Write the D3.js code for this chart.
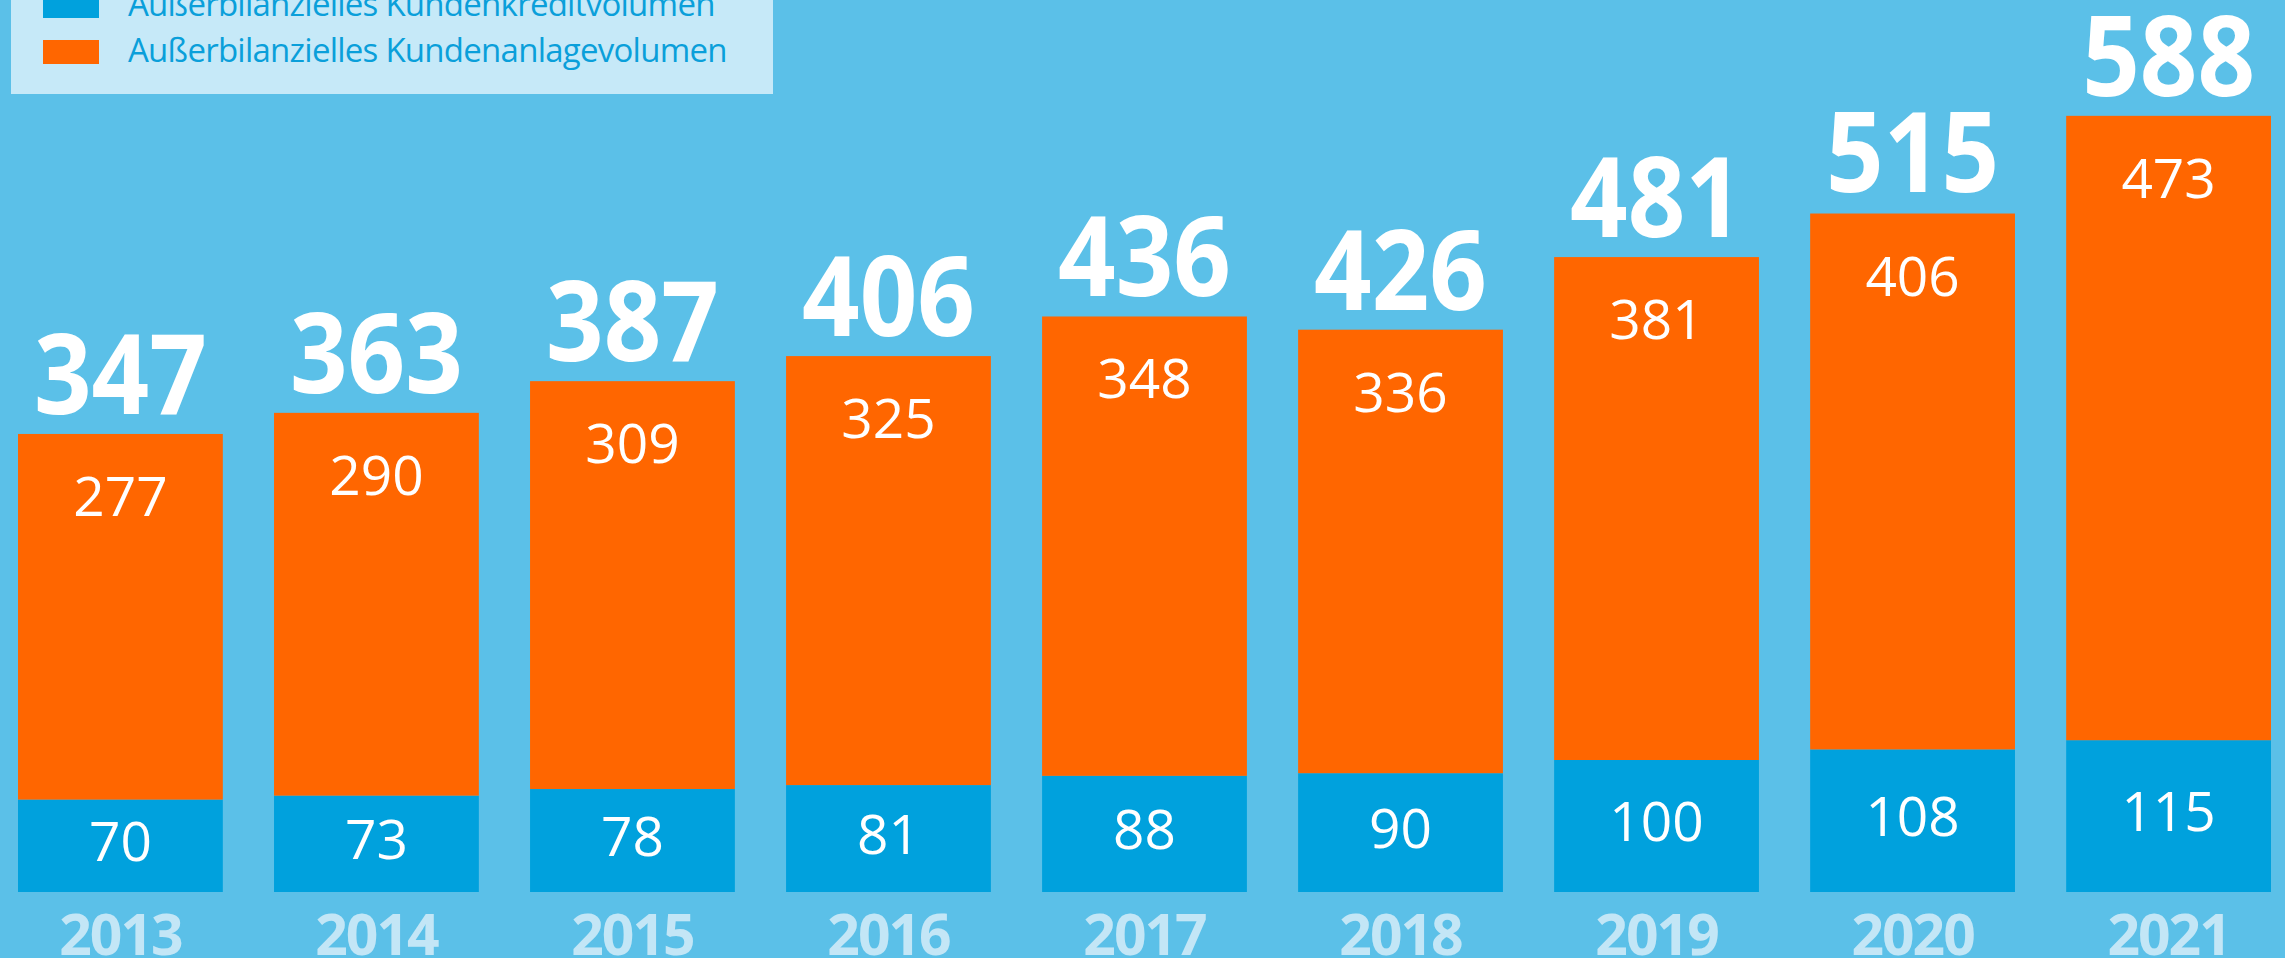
<!DOCTYPE html>
<html>
<head>
<meta charset="utf-8">
<script src="https://cdn.jsdelivr.net/npm/d3@7"></script>
<style>
  html, body { margin: 0; padding: 0; background: #5bc0e8; overflow: hidden; }
  svg { display: block; font-family: "Open Sans", sans-serif; }
</style>
</head>
<body>
<div id="chart"></div>
<script>
// chart data
var years = ["2013", "2014", "2015", "2016", "2017", "2018", "2019", "2020", "2021"];
var kredit = [70, 73, 78, 81, 88, 90, 100, 108, 115];
var anlage = [277, 290, 309, 325, 348, 336, 381, 406, 473];
var totals = [347, 363, 387, 406, 436, 426, 481, 515, 588];
var seriesNames = ["Außerbilanzielles Kundenkreditvolumen", "Außerbilanzielles Kundenanlagevolumen"];

var width = 2285;
var height = 958;
var blue = "#00a1dd";
var orange = "#ff6600";

var svg = d3.select("#chart")
  .append("svg")
  .attr("width", width)
  .attr("height", height);

svg.append("rect")
  .attr("width", width)
  .attr("height", height)
  .attr("fill", "#5bc0e8");

// scales
var x = d3.scaleBand()
  .domain(years)
  .range([18, 2271])
  .paddingInner(0.2)
  .paddingOuter(0);

var y = d3.scaleLinear()
  .domain([0, 600])
  .range([892, 100]);

var rows = years.map(function(yr, i) {
  return { year: yr, kredit: kredit[i], anlage: anlage[i], total: totals[i] };
});

var stack = d3.stack().keys(["kredit", "anlage"]);
var layers = stack(rows);
var colors = [blue, orange];

// bars
var groups = svg.selectAll(".layer")
  .data(layers)
  .enter()
  .append("g")
  .attr("class", "layer")
  .attr("fill", function(d, i) { return colors[i]; });

groups.selectAll("rect")
  .data(function(d) { return d; })
  .enter()
  .append("rect")
  .attr("x", function(d) { return x(d.data.year); })
  .attr("y", function(d) { return y(d[1]); })
  .attr("width", x.bandwidth())
  .attr("height", function(d) { return y(d[0]) - y(d[1]); });

// blue segment labels (middle of segment)
svg.selectAll(".lbl-kredit")
  .data(layers[0])
  .enter()
  .append("text")
  .attr("class", "lbl-kredit")
  .attr("x", function(d) { return x(d.data.year) + x.bandwidth() / 2; })
  .attr("y", function(d) { return (y(d[0]) + y(d[1])) / 2 + 15; })
  .attr("text-anchor", "middle")
  .attr("fill", "white")
  .style("font-size", "55px")
  .text(function(d) { return d.data.kredit; });

// orange segment labels (near the top)
svg.selectAll(".lbl-anlage")
  .data(layers[1])
  .enter()
  .append("text")
  .attr("class", "lbl-anlage")
  .attr("x", function(d) { return x(d.data.year) + x.bandwidth() / 2; })
  .attr("y", function(d) { return y(d[1]) + 82; })
  .attr("text-anchor", "middle")
  .attr("fill", "white")
  .style("font-size", "55px")
  .text(function(d) { return d.data.anlage; });

// totals above bars (slightly condensed bold digits)
svg.selectAll(".lbl-total")
  .data(rows)
  .enter()
  .append("text")
  .attr("class", "lbl-total")
  .attr("transform", function(d) {
    return "translate(" + (x(d.year) + x.bandwidth() / 2) + "," + (y(d.total) - 20) + ") scale(0.9,1)";
  })
  .attr("text-anchor", "middle")
  .attr("fill", "white")
  .style("font-size", "112px")
  .style("font-weight", "bold")
  .text(function(d) { return d.total; });

// year axis
var xAxis = svg.append("g")
  .attr("transform", "translate(0,955)")
  .call(d3.axisBottom(x).tickSize(0).tickPadding(0));
xAxis.select(".domain").remove();
xAxis.selectAll("text")
  .attr("dy", 0)
  .attr("fill", "#c3e6f6")
  .style("font-family", "'Open Sans', sans-serif")
  .style("font-size", "57px")
  .style("font-weight", "bold")
  .style("letter-spacing", "-2px");

// legend
var legend = svg.append("g");
legend.append("rect")
  .attr("x", 11)
  .attr("y", -20)
  .attr("width", 762)
  .attr("height", 114)
  .attr("fill", "#c6e9f8");

var items = legend.selectAll(".legend")
  .data(seriesNames)
  .enter()
  .append("g")
  .attr("class", "legend")
  .attr("transform", function(d, i) { return "translate(43," + (i * 46 - 6) + ")"; });

items.append("rect")
  .attr("width", 56)
  .attr("height", 24)
  .attr("fill", function(d, i) { return colors[i]; });

items.append("text")
  .attr("x", 85)
  .attr("y", 22)
  .attr("fill", "#0a9fda")
  .style("font-size", "33px")
  .style("letter-spacing", "-0.75px")
  .text(function(d) { return d; });
</script>
</body>
</html>
